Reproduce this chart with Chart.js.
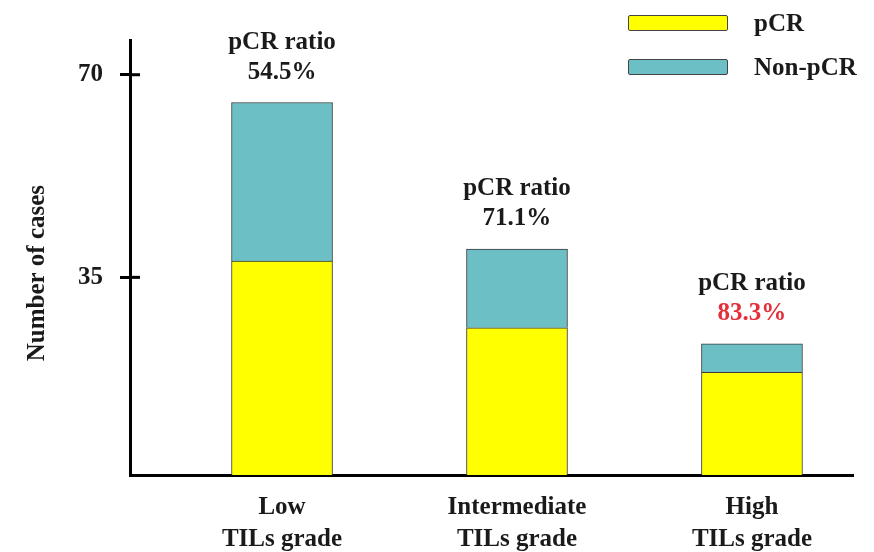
<!DOCTYPE html>
<html>
<head>
<meta charset="utf-8">
<script src="https://cdn.jsdelivr.net/npm/chart.js@4/dist/chart.umd.min.js"></script>
<style>
  html, body { margin: 0; padding: 0; background: #fff; }
  #wrap { position: relative; width: 874px; height: 552px; }
  #legend {
    position: absolute; left: 628px; top: 1px;
    font: bold 25px "Liberation Serif", "DejaVu Serif", serif; color: #1a1a1a;
  }
  #legend .row { display: flex; align-items: center; height: 44px; }
  #legend .box { width: 98px; height: 14px; border: 1.5px solid #444; border-radius: 2px; margin-right: 26px; }
</style>
</head>
<body>
<div id="wrap">
  <canvas id="chart" width="874" height="552"></canvas>
  <div id="legend"></div>
</div>
<script>
  // values
  const categories = [["Low", "TILs grade"], ["Intermediate", "TILs grade"], ["High", "TILs grade"]];
  const pcrCases = [37.8, 26.3, 18.6];
  const nonPcrCases = [27.4, 13.6, 4.9];
  const ratioLabels = ["54.5%", "71.1%", "83.3%"];
  const yTicks = [35, 70];

  const FONT = '"Liberation Serif", "DejaVu Serif", serif';
  const INK = "#1a1a1a";
  const HIGHLIGHT = 2; // the high-grade ratio is printed in red

  const toPoints = (arr) => arr.map((v, i) => ({ x: i + 1, y: v }));

  // short tick marks that cross into the plot, plus the ratio notes above each bar
  const extras = {
    id: "extras",
    afterDraw(chart) {
      const { ctx, scales } = chart;
      const y = scales.y;
      ctx.save();
      ctx.strokeStyle = "#000";
      ctx.lineWidth = 3;
      y.ticks.forEach((t) => {
        const py = y.getPixelForValue(t.value);
        ctx.beginPath();
        ctx.moveTo(y.right, py);
        ctx.lineTo(y.right + 10, py);
        ctx.stroke();
      });

      const topMeta = chart.getDatasetMeta(1);
      ctx.font = "bold 25px " + FONT;
      ctx.textAlign = "center";
      ctx.textBaseline = "middle";
      topMeta.data.forEach((bar, i) => {
        ctx.fillStyle = INK;
        ctx.fillText("pCR ratio", bar.x, bar.y - 60);
        ctx.fillStyle = i === HIGHLIGHT ? "#e3303a" : INK;
        ctx.fillText(ratioLabels[i], bar.x, bar.y - 30);
      });
      ctx.restore();
    },
  };

  const chart = new Chart(document.getElementById("chart"), {
    type: "bar",
    data: {
      datasets: [
        {
          label: "pCR",
          data: toPoints(pcrCases),
          backgroundColor: "#ffff00",
          borderColor: "#3a3a3a",
          borderWidth: 1,
          barThickness: 101,
        },
        {
          label: "Non-pCR",
          data: toPoints(nonPcrCases),
          backgroundColor: "#6dbfc6",
          borderColor: "#3a3a3a",
          borderWidth: 1,
          barThickness: 101,
        },
      ],
    },
    options: {
      responsive: false,
      animation: false,
      layout: { padding: { top: 40, right: 21, left: 0, bottom: 0 } },
      plugins: { legend: { display: false }, tooltip: { enabled: false } },
      scales: {
        x: {
          type: "linear",
          stacked: true,
          offset: false,
          min: 0.353,
          max: 3.43,
          afterBuildTicks: (s) => { s.ticks = categories.map((_, i) => ({ value: i + 1 })); },
          afterFit: (s) => { s.height = 77; },
          ticks: {
            callback: (v) => categories[v - 1],
            color: INK,
            padding: 17,
            font: { family: FONT, size: 25, weight: "bold", lineHeight: 1.28 },
            maxRotation: 0,
          },
          grid: { display: false, drawTicks: false },
          border: { display: true, color: "#000", width: 3 },
        },
        y: {
          stacked: true,
          min: 0.86,
          max: 76,
          afterBuildTicks: (s) => { s.ticks = yTicks.map((v) => ({ value: v })); },
          afterFit: (s) => { s.width = 130; },
          ticks: {
            color: INK,
            padding: 17,
            font: { family: FONT, size: 25, weight: "bold" },
          },
          grid: { drawOnChartArea: false, tickLength: 10, tickWidth: 3, tickColor: "#000" },
          border: { display: true, color: "#000", width: 3 },
          title: {
            display: true,
            text: "Number of cases     ",
            color: INK,
            padding: { top: 23, bottom: 0 },
            font: { family: FONT, size: 25, weight: "bold" },
          },
        },
      },
    },
    plugins: [extras],
  });

  // legend drawn as HTML from the chart's datasets
  const legend = document.getElementById("legend");
  chart.data.datasets.forEach((ds) => {
    const row = document.createElement("div");
    row.className = "row";
    const box = document.createElement("span");
    box.className = "box";
    box.style.background = ds.backgroundColor;
    const label = document.createElement("span");
    label.textContent = ds.label;
    row.appendChild(box);
    row.appendChild(label);
    legend.appendChild(row);
  });
</script>
</body>
</html>
